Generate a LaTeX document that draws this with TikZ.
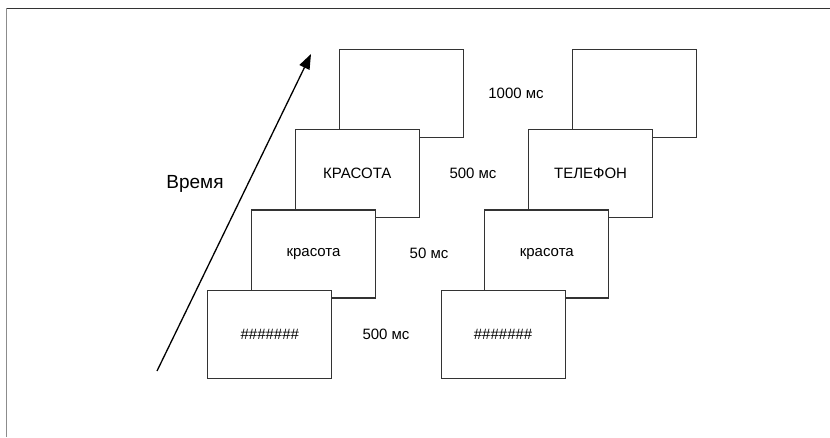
\documentclass[tikz,border=0pt]{standalone}
\usepackage{fontspec}
\setmainfont{Liberation Sans}
\usetikzlibrary{arrows.meta}
\tikzset{
  screen/.style={draw=black!80, line width=1.2pt, fill=white, minimum width=124pt, minimum height=88pt, inner sep=0pt, font=\fontsize{15}{18}\selectfont},
  delay/.style={inner sep=0pt, font=\fontsize{15}{18}\selectfont},
}
\begin{document}
\begin{tikzpicture}[x=1pt, y=-1pt]
    \useasboundingbox (0,0) rectangle (830,437);
    % рамка
    \draw[black!80, line width=1pt] (6.5,8) -- (830,8);
    \draw[black!45, line width=1.2pt] (6.5,8) -- (6.5,437);

    % ось времени
    \coordinate (t0) at (157,371);
    \coordinate (t1) at (311,54);
    \draw[line width=1.3pt, -{Triangle[length=15pt,width=11pt]}] (t0) -- (t1);
    \node[inner sep=0pt, font=\fontsize{19}{22}\selectfont] (time) at (195,184) {Время};

    % первая серия
    \node[screen] (a1) at (401.3,93.2) {};
    \node[screen] (a2) at (357.3,173.5) {КРАСОТА};
    \node[screen] (a3) at (313.5,254) {красота};
    \node[screen] (a4) at (269.8,334.3) {\#\#\#\#\#\#\#};

    % вторая серия
    \node[screen] (b1) at (634.6,93.2) {};
    \node[screen] (b2) at (590.6,173.5) {ТЕЛЕФОН};
    \node[screen] (b3) at (546.8,254) {красота};
    \node[screen] (b4) at (503.1,334.3) {\#\#\#\#\#\#\#};

    % длительности
    \node[delay] (d1) at (516,93.3) {1000 мс};
    \node[delay] (d2) at (473,173.3) {500 мс};
    \node[delay] (d3) at (429,253.3) {50 мс};
    \node[delay] (d4) at (386,334.3) {500 мс};
\end{tikzpicture}
\end{document}
